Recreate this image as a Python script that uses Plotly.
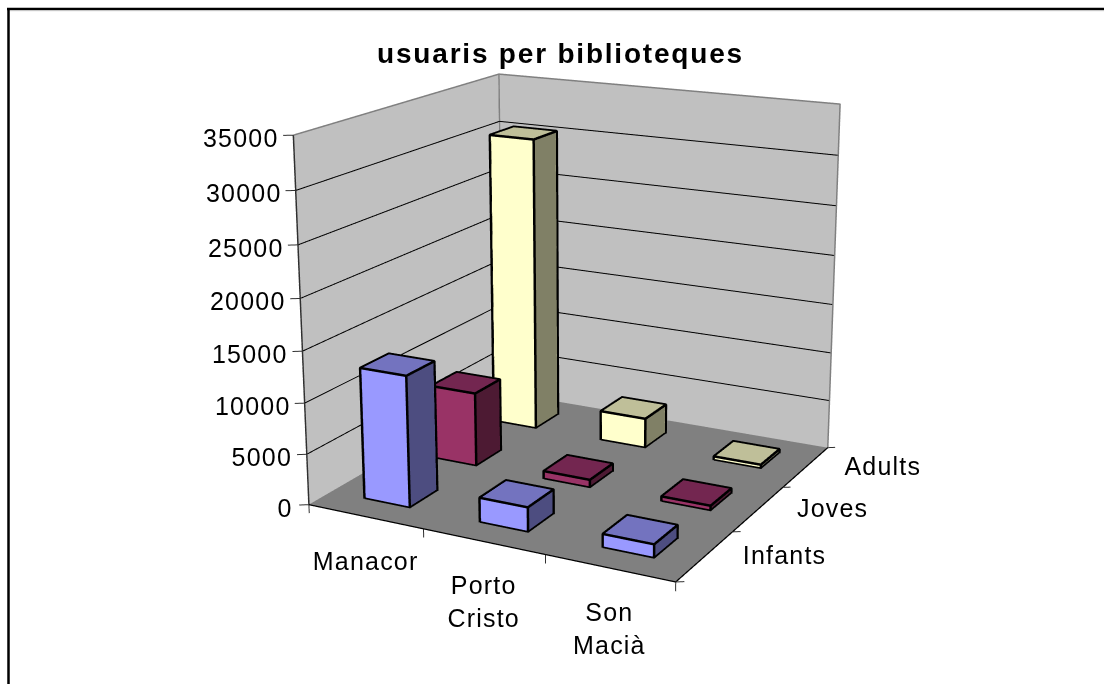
import plotly.graph_objects as go

categories = ["Manacor", "Porto<br>Cristo", "Son<br>Macià"]
series = ["Infants", "Joves", "Adults"]
infants = [12900, 2400, 1300]
joves = [7500, 800, 500]
adults = [30400, 3100, 400]
z_ticks = [0, 5000, 10000, 15000, 20000, 25000, 30000, 35000]
title_text = "usuaris per biblioteques"

BASE = ["#9999FF", "#993366", "#FFFFCC"]
TOP = ["#7373BF", "#732650", "#BFBF99"]
SIDE = ["#4D4D80", "#4D1A33", "#808066"]
FONT = "Liberation Sans"

# The figure is larger than the window so the scene's fixed 45 degree view has the
# long focal length of the reference; the page offset below brings it into place.
FW, FH = 2400, 1612
OX, OY = -612, -516
def px(x): return (x - OX) / FW
def py(y): return 1 - (y - OY) / FH

ZT = z_ticks[-1]
N = len(categories)
M = len(series)
FLAT = dict(ambient=1, diffuse=0, specular=0, fresnel=0)
# Faces sit a hair behind their outlines so the outlines are not cut by the depth test.
E = 0.006
EZ = 40
fig = go.Figure()

def line(pts, color="black", width=2):
    fig.add_trace(go.Scatter3d(x=[q[0] for q in pts], y=[q[1] for q in pts], z=[q[2] for q in pts], mode="lines",
                               line=dict(color=color, width=width), hoverinfo="skip", showlegend=False))

def quad(X, Y, Z, color):
    fig.add_trace(go.Mesh3d(x=X, y=Y, z=Z, i=[0, 0], j=[1, 2], k=[2, 3], color=color, flatshading=True,
                            lighting=FLAT, hoverinfo="skip", showscale=False))

quad([-E, N, N, -E], [0, 0, M + E, M + E], [-EZ] * 4, "#808080")
quad([-E] * 4, [0, M + E, M + E, 0], [-EZ, -EZ, ZT, ZT], "#C0C0C0")
quad([-E, N, N, -E], [M + E] * 4, [-EZ, -EZ, ZT, ZT], "#C0C0C0")
for v in z_ticks[1:-1]:
    line([(0, 0, v), (0, M, v), (N, M, v)], "black", 2)
for v in z_ticks:
    line([(-0.06, -0.04, v), (0, 0, v)], "#303030", 2)
line([(0, 0, 0), (0, 0, ZT)], "#303030", 3)
line([(0, 0, ZT), (0, M, ZT), (N, M, ZT), (N, M, 0)], "#808080", 3)
line([(0, M, 0), (0, M, ZT)], "#808080", 3)
line([(0, 0, 0), (N, 0, 0), (N, M, 0)], "black", 2.5)
for i in range(N + 1):
    line([(i, 0, 0), (i, 0, -850)], "#303030", 2)
for j in range(M + 1):
    line([(N, j, 0), (N + 0.05, j + 0.033, 0)], "#303030", 2)

for j, vals in enumerate([infants, joves, adults]):
    for i, h in enumerate(vals):
        x0, x1, y0, y1 = i + 0.3, i + 0.7, j + 0.3, j + 0.7
        X = [x0 + E, x1 - E, x1 - E, x0 + E, x0 + E, x1 - E, x1 - E, x0 + E]
        Y = [y0 + E, y0 + E, y1 - E, y1 - E, y0 + E, y0 + E, y1 - E, y1 - E]
        Z = [EZ, EZ, EZ, EZ, h - EZ, h - EZ, h - EZ, h - EZ]
        I = [0, 0, 1, 1, 4, 4, 3, 3, 0, 0, 2, 2]
        J = [1, 5, 2, 6, 5, 6, 0, 4, 1, 2, 3, 7]
        K = [5, 4, 6, 5, 6, 7, 4, 7, 2, 3, 7, 6]
        fc = [BASE[j]] * 2 + [SIDE[j]] * 2 + [TOP[j]] * 2 + [BASE[j]] * 6
        fig.add_trace(go.Mesh3d(x=X, y=Y, z=Z, i=I, j=J, k=K, facecolor=fc, flatshading=True,
                                lighting=FLAT, hoverinfo="skip", showscale=False))
        ex, ey, ez = [], [], []
        for path in ([(x0, y0, 0), (x1, y0, 0), (x1, y1, 0), (x1, y1, h), (x0, y1, h), (x0, y0, h), (x0, y0, 0)],
                     [(x0, y0, h), (x1, y0, h), (x1, y1, h)], [(x1, y0, h), (x1, y0, 0)]):
            for a, b, c in path:
                ex.append(a); ey.append(b); ez.append(c)
            ex.append(None); ey.append(None); ez.append(None)
        fig.add_trace(go.Scatter3d(x=ex, y=ey, z=ez, mode="lines", line=dict(color="black", width=5),
                                   hoverinfo="skip", showlegend=False))

tf = dict(family=FONT, size=25, color="black")
ann = []
for v in z_ticks:
    ann.append(dict(x=0, y=0, z=v, text=str(v), showarrow=False, xanchor="right", yanchor="middle",
                    xshift=-15, yshift=-3, font=tf))
for i, c in enumerate(categories):
    ann.append(dict(x=i + 0.5, y=0, z=0, text=c, showarrow=False, xanchor="center", yanchor="top", yshift=-28, font=tf))
for j, s in enumerate(series):
    ann.append(dict(x=N, y=j + 0.5, z=0, text=s, showarrow=False, xanchor="left", yanchor="middle",
                    xshift=40, yshift=1, font=tf))

hidden = dict(visible=False, showbackground=False, showgrid=False, zeroline=False, showticklabels=False)
fig.update_layout(
    width=FW, height=FH, margin=dict(l=0, r=0, t=0, b=0), paper_bgcolor="white", showlegend=False,
    title=dict(text="<b>%s</b>" % title_text, x=px(560.5), xanchor="center", y=py(53), yanchor="middle",
               font=dict(family=FONT, size=28, color="black")),
    scene=dict(domain=dict(x=[0, 1], y=[0, 1]),
               xaxis=dict(range=[-0.5, 3.5], **hidden), yaxis=dict(range=[-0.5, 3.5], **hidden),
               zaxis=dict(range=[-5000, 40000], **hidden),
               aspectmode="manual", aspectratio=dict(x=1, y=0.9689, z=0.8971),
               camera=dict(eye=dict(x=1.6303, y=-3.1188, z=1.0223), center=dict(x=0.0062, y=0.0286, z=0.0164),
                           up=dict(x=0.0037, y=0.0074, z=1), projection=dict(type="perspective")),
               annotations=ann),
    shapes=[dict(type="line", xref="paper", yref="paper", x0=px(8.5), x1=px(8.5), y0=py(8), y1=py(700), line=dict(color="black", width=2.5)),
            dict(type="line", xref="paper", yref="paper", x0=px(7), x1=px(1120), y0=py(9), y1=py(9), line=dict(color="black", width=2.5)),
            dict(type="line", xref="paper", yref="paper", x0=px(10), x1=px(1120), y0=py(10.7), y1=py(10.7), line=dict(color="#C8C8C8", width=1))])

css = ("html,body{margin:0;overflow:hidden;}"
       ".plotly-graph-div{position:absolute !important;left:%dpx;top:%dpx;}"
       ".annotation-text{letter-spacing:1.2px;}.gtitle{letter-spacing:1.8px;}") % (OX, OY)
post = "var s=document.createElement('style');s.textContent=%r;document.head.appendChild(s);" % css
fig.write_html("out.html", post_script=post)
